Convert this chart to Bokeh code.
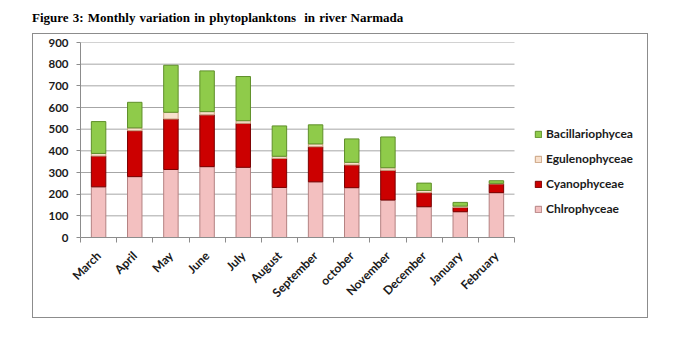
import numpy as np
from bokeh.plotting import figure
from bokeh.models import (FixedTicker, Legend, LegendItem, Div, ColumnDataSource, Range1d)
from bokeh.layouts import column
from bokeh.embed import file_html
from bokeh.resources import INLINE

title_text = "Figure 3: Monthly variation in phytoplanktons&nbsp; in river Narmada"
months = ["March", "April", "May", "June", "July", "August", "September",
          "october", "November", "December", "January", "February"]
chlrophyceae = [234, 281, 314, 327, 324, 231, 257, 230, 173, 142, 119, 207]
cyanophyceae = [142, 212, 233, 239, 203, 134, 162, 105, 137, 65, 20, 40]
egulenophyceae = [12, 13, 31, 15, 12, 10, 13, 12, 12, 10, 6, 3]
bacillariophycea = [147, 118, 217, 188, 204, 140, 88, 108, 142, 34, 17, 12]
series_names = ["Chlrophyceae", "Cyanophyceae", "Egulenophyceae", "Bacillariophycea"]
y_ticks = [0, 100, 200, 300, 400, 500, 600, 700, 800, 900]

fills = ["#F3C0C0", "#CC0000", "#F8E0CC", "#8FCB4A"]
edges = ["#B48282", "#7A0000", "#C9A07F", "#5F8F2A"]

n = len(months)
x = np.arange(n) + 0.5
src = ColumnDataSource(dict(x=x, chl=chlrophyceae, cya=cyanophyceae,
                            egu=egulenophyceae, bac=bacillariophycea))

FIG_W, LEFT = 616, 47
plot_px = 434                      # width of the category area in pixels
frame_px = FIG_W - LEFT            # frame extends to the right border
x_end = n * frame_px / plot_px

p = figure(width=FIG_W, height=285, x_range=Range1d(0, x_end),
           y_range=Range1d(0, y_ticks[-1]), output_backend="svg",
           toolbar_location=None, min_border_left=LEFT, min_border_right=0,
           min_border_top=8, min_border_bottom=82)
p.margin = (0, 0, 0, 32)
p.styles = {"border": "1px solid #8c8c8c"}
p.outline_line_color = None
p.background_fill_color = "white"
p.border_fill_color = "white"

# horizontal gridlines limited to the category area
p.ygrid.visible = False
p.segment(x0=[0] * len(y_ticks[1:]), x1=[n] * len(y_ticks[1:]), y0=y_ticks[1:], y1=y_ticks[1:],
          line_color="#a6a6a6", line_width=1)

rs = p.vbar_stack(["chl", "cya", "egu", "bac"], x="x", width=0.4, source=src,
                  fill_color=fills, line_color=edges, line_width=1)

items = [LegendItem(label=series_names[i], renderers=[rs[i]]) for i in [3, 2, 1, 0]]
legend = Legend(items=items, location=(454, 21), padding=0, margin=0, spacing=10,
                glyph_width=8, glyph_height=8, label_text_font="Lato",
                label_text_font_style="bold", label_text_font_size="12px",
                label_text_color="#1a1a1a", background_fill_alpha=0,
                border_line_color=None, label_standoff=4)
p.add_layout(legend)

p.xaxis.bounds = (0, n)
p.xaxis.ticker = FixedTicker(ticks=list(x), minor_ticks=list(range(n + 1)))
p.xaxis.major_label_overrides = {float(xi): m for xi, m in zip(x, months)}
p.xaxis.major_tick_line_color = None
p.xaxis.minor_tick_out = 5
p.xaxis.minor_tick_in = 0
p.xaxis.minor_tick_line_color = "#8c8c8c"
p.xaxis.axis_line_color = "#8c8c8c"
p.xaxis.major_label_orientation = np.pi / 4
p.xaxis.major_label_standoff = 10
p.xaxis.major_label_text_font = "Lato"
p.xaxis.major_label_text_font_style = "bold"
p.xaxis.major_label_text_font_size = "12px"
p.xaxis.major_label_text_color = "#1a1a1a"
p.xgrid.visible = False

p.yaxis.ticker = FixedTicker(ticks=y_ticks)
p.yaxis.minor_tick_line_color = None
p.yaxis.major_tick_out = 4
p.yaxis.major_tick_in = 0
p.yaxis.major_tick_line_color = "#8c8c8c"
p.yaxis.axis_line_color = "#8c8c8c"
p.yaxis.major_label_text_font = "Lato"
p.yaxis.major_label_text_font_style = "bold"
p.yaxis.major_label_text_font_size = "11.5px"
p.yaxis.major_label_text_color = "#1a1a1a"
p.yaxis.major_label_standoff = 8

title = Div(text='<div style="position:absolute;left:32px;top:9px;white-space:nowrap;'
                 'font-family:\'Liberation Serif\';font-weight:bold;font-size:13px;'
                 'word-spacing:0.9px;color:#000">'
                 + title_text + '</div>', width=677, height=33, margin=0)

layout = column(title, p, spacing=0)
open("out.html", "w").write(file_html(layout, INLINE))
